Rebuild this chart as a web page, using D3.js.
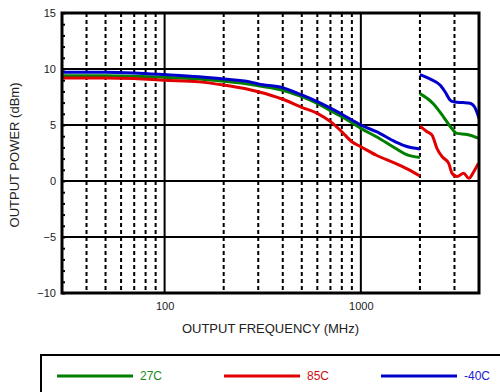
<!DOCTYPE html>
<html>
<head>
<meta charset="utf-8">
<script src="https://cdn.jsdelivr.net/npm/d3@7"></script>
<style>
  body { margin: 0; background: #fff; }
  text { font-family: "Liberation Sans", Arial, sans-serif; }
</style>
</head>
<body>
<div id="chart"></div>
<script>
// frequency (MHz) / output power (dBm)
var freqLow = [30, 50, 70, 100, 150, 200, 272, 300, 400, 500, 600, 700, 800, 900, 1000, 1200, 1500, 1700, 2000];
var p27Low  = [9.4, 9.4, 9.35, 9.26, 9.1, 8.9, 8.63, 8.5, 8.1, 7.53, 6.93, 6.28, 5.74, 5.2, 4.7, 3.95, 2.92, 2.38, 2.1];
var p85Low  = [9.2, 9.2, 9.15, 9.0, 8.85, 8.57, 8.15, 7.97, 7.3, 6.58, 6.04, 5.3, 4.4, 3.5, 3.06, 2.3, 1.58, 1.13, 0.45];
var pm40Low = [9.72, 9.72, 9.65, 9.5, 9.3, 9.1, 8.85, 8.66, 8.33, 7.68, 7.08, 6.5, 5.96, 5.45, 5.0, 4.4, 3.5, 3.1, 2.86];

var freq27High = [2000, 2340, 2630, 2860, 3090, 3475, 4000];
var p27High    = [7.8, 6.9, 5.75, 4.85, 4.25, 4.15, 3.8];
var freq85High = [2000, 2175, 2305, 2445, 2594, 2803, 2917, 3090, 3342, 3548, 3760, 3970];
var p85High    = [4.9, 4.4, 4.1, 2.9, 2.17, 1.58, 0.69, 0.4, 0.7, 0.24, 0.83, 1.58];
var freqM40High = [2000, 2260, 2540, 2700, 2860, 3000, 3300, 3600, 3800, 4000];
var pm40High    = [9.5, 9.1, 8.55, 7.9, 7.2, 7.05, 7.0, 6.95, 6.6, 5.6];

var seriesNames = ["27C", "85C", "-40C"];
var seriesColors = ["#007f00", "#e00000", "#0000cc"];
var legendColors = ["#1a8a1a", "#cc1010", "#2020d0"];

var yTicks = [-10, -5, 0, 5, 10, 15];
var xLabels = [100, 1000];
var xMinor = [40, 50, 60, 70, 80, 90, 200, 300, 400, 500, 600, 700, 800, 900, 2000, 3000];

var W = 500, H = 392;
var margin = { top: 13, right: 21, bottom: 99, left: 62 },
    width = W - margin.left - margin.right,
    height = H - margin.top - margin.bottom;

var svg = d3.select("#chart").append("svg")
    .attr("width", W).attr("height", H);

var g = svg.append("g")
    .attr("transform", "translate(" + margin.left + "," + margin.top + ")");

var x = d3.scaleLog().domain([30, 4000]).range([0, width]);
var y = d3.scaleLinear().domain([-10, 15]).range([height, 0]);

g.append("clipPath").attr("id", "clip")
    .append("rect").attr("width", width).attr("height", height);

// dashed minor verticals
g.selectAll(".minor")
    .data(xMinor)
    .enter().append("line")
    .attr("x1", function (d) { return x(d); })
    .attr("x2", function (d) { return x(d); })
    .attr("y1", 0).attr("y2", height)
    .attr("stroke", "#000")
    .attr("stroke-width", 2)
    .attr("stroke-dasharray", "4,3");

// solid decade verticals
g.selectAll(".major")
    .data(xLabels)
    .enter().append("line")
    .attr("x1", function (d) { return x(d); })
    .attr("x2", function (d) { return x(d); })
    .attr("y1", 0).attr("y2", height)
    .attr("stroke", "#000")
    .attr("stroke-width", 2);

// horizontal grid
g.selectAll(".hgrid")
    .data(yTicks)
    .enter().append("line")
    .attr("x1", 0).attr("x2", width)
    .attr("y1", function (d) { return y(d); })
    .attr("y2", function (d) { return y(d); })
    .attr("stroke", "#000")
    .attr("stroke-width", 2);

// small inward ticks every 1 dB on left axis
g.append("g")
    .call(d3.axisLeft(y).ticks(25).tickSize(-3).tickFormat(""))
    .call(function (s) { s.select(".domain").remove(); })
    .selectAll("line").attr("stroke-width", 2);

// y labels
g.append("g")
    .call(d3.axisLeft(y).tickValues(yTicks).tickSize(0).tickPadding(6))
    .call(function (s) { s.select(".domain").remove(); })
    .selectAll("text")
    .style("font-size", "11px")
    .attr("fill", "#222");

// x labels
g.append("g")
    .attr("transform", "translate(0," + height + ")")
    .call(d3.axisBottom(x).tickValues(xLabels).tickSize(0).tickPadding(9).tickFormat(d3.format("d")))
    .call(function (s) { s.select(".domain").remove(); })
    .selectAll("text")
    .style("font-size", "11px")
    .attr("fill", "#222");

// curves
var line = d3.line()
    .x(function (d) { return x(d[0]); })
    .y(function (d) { return y(d[1]); })
    .curve(d3.curveMonotoneX);

var segments = [
    [freqLow, p27Low, 0], [freqLow, p85Low, 1], [freqLow, pm40Low, 2],
    [freq27High, p27High, 0], [freq85High, p85High, 1], [freqM40High, pm40High, 2]
];
var curves = g.append("g").attr("clip-path", "url(#clip)");
segments.forEach(function (s) {
    var pts = d3.zip(s[0], s[1]);
    curves.append("path")
        .datum(pts)
        .attr("fill", "none")
        .attr("stroke", seriesColors[s[2]])
        .attr("stroke-width", 3)
        .attr("stroke-linejoin", "round")
        .attr("d", line);
});

// border
g.append("rect")
    .attr("width", width).attr("height", height)
    .attr("fill", "none")
    .attr("stroke", "#000")
    .attr("stroke-width", 3);

// axis titles
svg.append("text")
    .attr("x", margin.left + width / 2)
    .attr("y", 333)
    .attr("text-anchor", "middle")
    .style("font-size", "13px")
    .attr("fill", "#222")
    .text("OUTPUT FREQUENCY (MHz)");

svg.append("text")
    .attr("transform", "translate(19," + (margin.top + height / 2 + 2) + ") rotate(-90)")
    .attr("text-anchor", "middle")
    .style("font-size", "13px")
    .attr("fill", "#222")
    .text("OUTPUT POWER (dBm)");

// legend
svg.append("rect")
    .attr("x", 41).attr("y", 355)
    .attr("width", 480).attr("height", 60)
    .attr("fill", "none")
    .attr("stroke", "#000")
    .attr("stroke-width", 2);

var legX = [57, 224, 381];
var leg = svg.selectAll(".leg")
    .data(seriesNames)
    .enter().append("g")
    .attr("transform", function (d, i) { return "translate(" + legX[i] + ",376)"; });
leg.append("line")
    .attr("x1", 0).attr("x2", 76)
    .attr("stroke", function (d, i) { return seriesColors[i]; })
    .attr("stroke-width", 3);
leg.append("text")
    .attr("x", 83).attr("y", 4)
    .style("font-size", "12px")
    .attr("fill", function (d, i) { return legendColors[i]; })
    .text(function (d) { return d; });
</script>
</body>
</html>
